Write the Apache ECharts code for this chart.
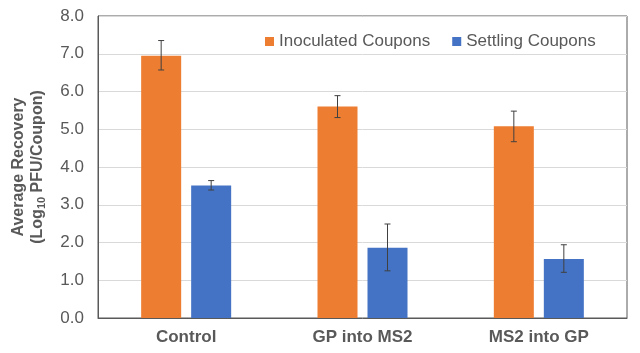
<!DOCTYPE html>
<html>
<head>
<meta charset="utf-8">
<script src="https://cdn.jsdelivr.net/npm/echarts@6/dist/echarts.min.js"></script>
<style>
  html, body { margin: 0; padding: 0; background: #fff; }
  #main { width: 640px; height: 353px; }
</style>
</head>
<body>
<div id="main"></div>
<script>
const categories = ['Control', 'GP into MS2', 'MS2 into GP'];
const seriesNames = ['Inoculated Coupons', 'Settling Coupons'];
const inoculated = [6.95, 5.60, 5.08];
const inoculatedLow = [6.57, 5.31, 4.67];
const inoculatedHigh = [7.35, 5.89, 5.48];
const settling = [3.51, 1.86, 1.56];
const settlingLow = [3.39, 1.25, 1.21];
const settlingHigh = [3.64, 2.49, 1.94];
const yTicks = [0, 1, 2, 3, 4, 5, 6, 7, 8];

const BAR_W = 40;
const GAP = 10;
const FONT = '"Liberation Sans", Arial, sans-serif';

function errorSeries(low, high, side) {
  return {
    type: 'custom',
    silent: true,
    z: 5,
    data: low.map((v, i) => [i, v, high[i]]),
    renderItem: function (params, api) {
      const off = side * (BAR_W + GAP) / 2;
      const lo = api.coord([api.value(0), api.value(1)]);
      const hi = api.coord([api.value(0), api.value(2)]);
      const x = lo[0] + off;
      const cap = 3;
      const style = { stroke: '#404040', lineWidth: 1 };
      return {
        type: 'group',
        children: [
          { type: 'line', shape: { x1: x, y1: lo[1], x2: x, y2: hi[1] }, style: style },
          { type: 'line', shape: { x1: x - cap, y1: lo[1], x2: x + cap, y2: lo[1] }, style: style },
          { type: 'line', shape: { x1: x - cap, y1: hi[1], x2: x + cap, y2: hi[1] }, style: style }
        ]
      };
    }
  };
}

let myChart = echarts.init(document.getElementById('main'));
let option = {
  animation: false,
  textStyle: { fontFamily: FONT },
  grid: {
    left: 98,
    right: 13,
    top: 16,
    bottom: 35,
    show: true,
    borderColor: '#595959',
    borderWidth: 1
  },
  legend: {
    data: seriesNames,
    left: 260,
    top: 28,
    itemWidth: 9,
    itemHeight: 9,
    itemGap: 22,
    icon: 'rect',
    textStyle: { color: '#595959', fontSize: 17, fontFamily: FONT }
  },
  xAxis: {
    type: 'category',
    data: categories,
    axisTick: { show: false },
    axisLine: { lineStyle: { color: '#595959' } },
    axisLabel: {
      color: '#595959',
      fontSize: 17,
      fontWeight: 'bold',
      margin: 11,
      fontFamily: FONT
    }
  },
  yAxis: {
    type: 'value',
    min: yTicks[0],
    max: yTicks[yTicks.length - 1],
    interval: 1,
    axisLine: { show: true, lineStyle: { color: '#595959' } },
    axisLabel: {
      color: '#595959',
      fontSize: 17,
      margin: 14,
      fontFamily: FONT,
      formatter: v => v.toFixed(1)
    },
    splitLine: { lineStyle: { color: '#d9d9d9' } },
    name: '{a|Average Recovery}\n{a|(Log}{s|10}{a| PFU/Coupon)}',
    nameLocation: 'middle',
    nameRotate: 90,
    nameGap: 51,
    nameTextStyle: {
      rich: {
        a: { fontSize: 16, fontWeight: 'bold', color: '#595959', fontFamily: FONT, lineHeight: 19 },
        s: { fontSize: 11, fontWeight: 'bold', color: '#595959', fontFamily: FONT, verticalAlign: 'bottom', lineHeight: 19, padding: [7, 0, 0, 0] }
      }
    }
  },
  series: [
    {
      name: seriesNames[0],
      type: 'bar',
      data: inoculated,
      barWidth: BAR_W,
      barGap: (GAP / BAR_W * 100) + '%',
      itemStyle: { color: '#ED7D31' }
    },
    {
      name: seriesNames[1],
      type: 'bar',
      data: settling,
      barWidth: BAR_W,
      itemStyle: { color: '#4472C4' }
    },
    errorSeries(inoculatedLow, inoculatedHigh, -1),
    errorSeries(settlingLow, settlingHigh, 1)
  ]
};
myChart.setOption(option);
</script>
</body>
</html>
